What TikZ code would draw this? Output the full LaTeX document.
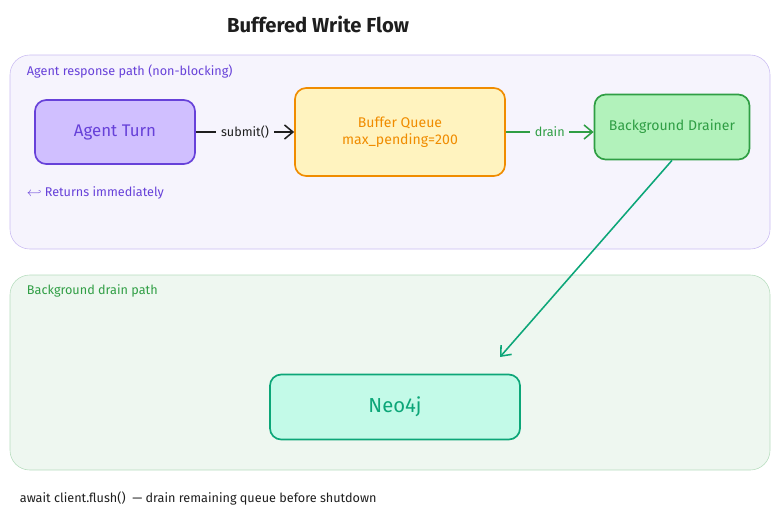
\documentclass[tikz,border=0pt]{standalone}
\usepackage{fontspec}
\setmainfont{Fira Sans}
\usetikzlibrary{arrows.meta, positioning}
\definecolor{violet}{HTML}{6741D9}
\definecolor{violetfill}{HTML}{D0BFFF}
\definecolor{orange}{HTML}{F08C00}
\definecolor{orangefill}{HTML}{FFF3BF}
\definecolor{green}{HTML}{2F9E44}
\definecolor{greenfill}{HTML}{B2F2BB}
\definecolor{teal}{HTML}{0CA678}
\definecolor{tealfill}{HTML}{C3FAE8}
\definecolor{dark}{HTML}{1E1E1E}
\tikzset{
    box/.style={rectangle, rounded corners=8pt, text centered, draw, line width=1.2pt, align=center},
    group/.style={rectangle, rounded corners=14pt, draw},
    flow/.style={-{Straight Barb[length=6pt,width=10pt]}, line width=1.1pt}
}
\begin{document}
\begin{tikzpicture}[x=0.025cm, y=-0.025cm]
    \useasboundingbox (0,0) rectangle (780,520);
    % Title
    \node[font=\Large\bfseries, text=dark] (title) at (318,24) {Buffered Write Flow};

    % Groups
    \draw[group, fill=violet!6, draw=violet!35] (10,55) rectangle (770,249);
    \node[anchor=west, font=\small, text=violet] (top_label) at (22,71) {Agent response path (non-blocking)};
    \draw[group, fill=green!8, draw=green!35] (10,275) rectangle (770,470);
    \node[anchor=west, font=\small, text=green] (bottom_label) at (22,291) {Background drain path};

    % Nodes
    \node[box, fill=violetfill, draw=violet, text=violet, minimum width=4cm, minimum height=1.6cm, font=\large] (agent) at (115,132) {Agent Turn};
    \node[box, fill=orangefill, draw=orange, text=orange, minimum width=5.25cm, minimum height=2.2cm] (buffer) at (400,132) {Buffer Queue\\ max\_pending=200};
    \node[box, fill=greenfill, draw=green, text=green, minimum width=3.875cm, minimum height=1.625cm] (drainer) at (672,127) {Background Drainer};
    \node[box, fill=tealfill, draw=teal, text=teal, minimum width=6.25cm, minimum height=1.625cm, font=\Large] (neo) at (395,407) {Neo4j};

    \node[anchor=west, font=\small, text=violet] (returns) at (22,193) {$\hookleftarrow$ Returns immediately};
    \node[anchor=west, font=\small, text=dark] (footer) at (15,498) {await client.flush()\ \ --- drain remaining queue before shutdown};

    % Flows
    \draw[flow, color=dark] (agent) -- (buffer) node[midway, fill=violet!6, font=\small] {submit()};
    \draw[flow, color=green] (buffer) -- (drainer.west |- buffer) node[midway, fill=violet!6, font=\small] {drain};
    \coordinate (neo_tip) at (500,357);
    \draw[flow, color=teal] (drainer.south) -- (neo_tip);
\end{tikzpicture}
\end{document}
